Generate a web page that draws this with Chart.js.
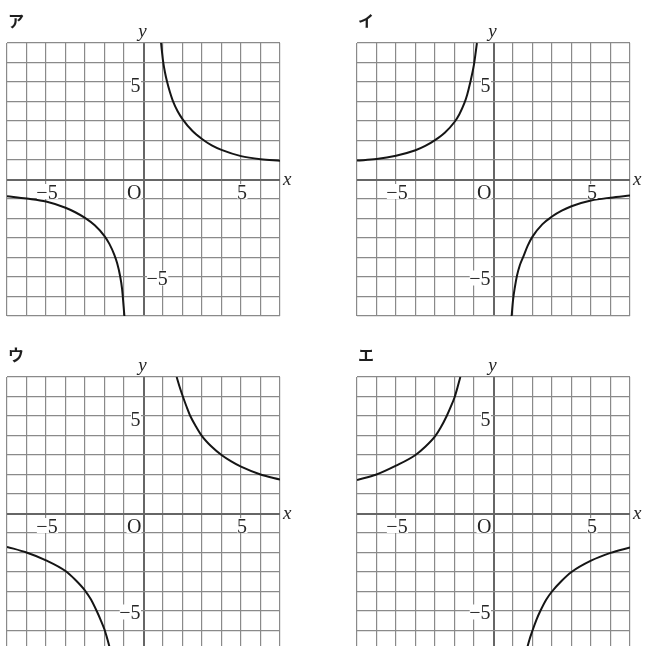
<!DOCTYPE html>
<html>
<head>
<meta charset="utf-8">
<script src="https://cdn.jsdelivr.net/npm/chart.js@4"></script>
<style>
  html, body { margin: 0; padding: 0; background: #ffffff; overflow: hidden; width: 645px; height: 646px; }
  canvas { position: absolute; }
</style>
</head>
<body>
<canvas id="cA" width="322" height="330" style="left:0px;top:0px;"></canvas>
<canvas id="cI" width="323" height="330" style="left:322px;top:0px;"></canvas>
<canvas id="cU" width="322" height="330" style="left:0px;top:330px;"></canvas>
<canvas id="cE" width="323" height="330" style="left:322px;top:330px;"></canvas>
<script>
// ---- data ----
const axisMin = -7;
const axisMax = 7;
const panelNames = ['ア', 'イ', 'ウ', 'エ'];
const xTickValues = [-5, 0, 5];
const xTickTexts = ['−5', 'O', '5'];
const yTickValues = [5, -5];
const yTickTexts = ['5', '−5'];

// ア
const aUpperX = [0.9, 1.0, 1.1, 1.2, 1.35, 1.5, 1.75, 2.0, 2.5, 3.0, 3.5, 4.0, 5.0, 6.0, 7.0];
const aUpperY = [7.0, 6.1, 5.5, 5.05, 4.5, 4.05, 3.5, 3.1, 2.5, 2.08, 1.75, 1.52, 1.2, 1.04, 0.96];
const aLowerX = [-7.0, -6.0, -5.0, -4.0, -3.5, -3.0, -2.5, -2.0, -1.75, -1.5, -1.35, -1.2, -1.1, -0.98];
const aLowerY = [-0.86, -0.98, -1.13, -1.45, -1.68, -1.97, -2.35, -2.9, -3.3, -3.85, -4.3, -4.95, -5.6, -7.0];
// イ
const iUpperX = [-7.0, -6.0, -5.0, -4.0, -3.5, -3.0, -2.5, -2.0, -1.75, -1.5, -1.35, -1.2, -1.0, -0.85];
const iUpperY = [0.97, 1.05, 1.22, 1.5, 1.72, 2.02, 2.4, 2.95, 3.35, 3.9, 4.35, 4.95, 5.9, 7.0];
const iLowerX = [0.93, 1.0, 1.1, 1.2, 1.35, 1.54, 1.75, 2.0, 2.5, 3.0, 3.5, 4.0, 5.0, 6.0, 7.0];
const iLowerY = [-7.0, -6.2, -5.5, -4.95, -4.4, -3.93, -3.4, -2.93, -2.3, -1.9, -1.6, -1.37, -1.08, -0.93, -0.82];
// ウ
const uUpperX = [1.7, 1.85, 2.0, 2.2, 2.4, 2.7, 3.0, 3.5, 4.0, 4.5, 5.0, 6.0, 7.0];
const uUpperY = [7.0, 6.5, 6.05, 5.5, 5.0, 4.45, 3.97, 3.42, 3.0, 2.67, 2.4, 2.0, 1.74];
const uLowerX = [-7.0, -6.0, -5.0, -4.0, -3.5, -3.0, -2.7, -2.4, -2.2, -2.0, -1.85, -1.7];
const uLowerY = [-1.71, -2.0, -2.4, -2.95, -3.4, -3.95, -4.4, -5.0, -5.45, -5.95, -6.45, -7.0];
// エ
const eUpperX = [-7.0, -6.0, -5.0, -4.0, -3.5, -3.0, -2.7, -2.4, -2.2, -2.0, -1.85, -1.7];
const eUpperY = [1.72, 2.0, 2.45, 3.0, 3.42, 3.95, 4.42, 5.0, 5.45, 5.95, 6.45, 7.0];
const eLowerX = [1.7, 1.85, 2.0, 2.2, 2.4, 2.7, 3.0, 3.5, 4.0, 5.0, 6.0, 7.0];
const eLowerY = [-7.0, -6.45, -6.0, -5.45, -5.0, -4.42, -4.0, -3.45, -3.0, -2.42, -2.02, -1.74];

// ---- drawing ----
const GRID = '#8a8a8a';
const AXIS = '#666666';
const SERIF = '"Liberation Serif", "DejaVu Serif", serif';

function pts(xs, ys) { return xs.map((x, i) => ({ x: x, y: ys[i] })); }

function branch(xs, ys) {
  return {
    data: pts(xs, ys),
    showLine: true,
    borderColor: '#151515',
    borderWidth: 2,
    pointRadius: 0,
    fill: false,
    cubicInterpolationMode: 'monotone'
  };
}

function labelBox(ctx, text, x, y, align) {
  ctx.textAlign = align;
  ctx.textBaseline = 'alphabetic';
  const m = ctx.measureText(text);
  const left = x - m.actualBoundingBoxLeft;
  const right = x + m.actualBoundingBoxRight;
  const top = y - m.actualBoundingBoxAscent;
  const bottom = y + m.actualBoundingBoxDescent;
  ctx.fillStyle = '#ffffff';
  ctx.fillRect(left - 0.5, top - 0.5, right - left + 1, bottom - top + 1);
  ctx.fillStyle = '#262626';
  ctx.fillText(text, x, y);
}

const labelsPlugin = {
  id: 'labels',
  afterDatasetsDraw(chart, args, opts) {
    const ctx = chart.ctx;
    const xs = chart.scales.x, ys = chart.scales.y;
    const ax = xs.getPixelForValue(0);
    const ay = ys.getPixelForValue(0);
    const area = chart.chartArea;
    ctx.save();
    // x tick labels
    ctx.font = '20px ' + SERIF;
    xTickValues.forEach((v, i) => {
      const t = xTickTexts[i];
      if (v === 0) {
        labelBox(ctx, t, ax - 2, ay + 19, 'right');
      } else {
        labelBox(ctx, t, xs.getPixelForValue(v) + 1, ay + 19, 'center');
      }
    });
    // y tick labels
    yTickValues.forEach((v, i) => {
      const t = yTickTexts[i];
      const py = ys.getPixelForValue(v) + (v > 0 ? 10 : 8);
      const side = opts.ySides[i];
      if (side === 'left') labelBox(ctx, t, ax - 3, py, 'right');
      else labelBox(ctx, t, ax + 3, py, 'left');
    });
    // axis names
    ctx.fillStyle = '#262626';
    ctx.font = 'italic 19px ' + SERIF;
    ctx.textAlign = 'center';
    ctx.textBaseline = 'alphabetic';
    ctx.fillText('y', ax - 1, area.top - 6);
    ctx.textAlign = 'left';
    ctx.fillText('x', area.right + 3, ay + 5);
    // panel name
    ctx.font = 'bold 16px "Noto Sans CJK JP", sans-serif';
    ctx.fillStyle = '#1e1e1e';
    ctx.fillText(opts.name, area.left + 1, area.top - 16);
    ctx.restore();
  }
};

function axisScale() {
  return {
    type: 'linear',
    min: axisMin,
    max: axisMax,
    ticks: { display: false, stepSize: 1 },
    grid: {
      drawTicks: false,
      color: (c) => (c.tick && c.tick.value === 0 ? AXIS : GRID),
      lineWidth: (c) => (c.tick && c.tick.value === 0 ? 2 : 1.2)
    },
    border: { display: false }
  };
}

function makeChart(id, datasets, padding, name, ySides) {
  return new Chart(document.getElementById(id), {
    type: 'scatter',
    data: { datasets: datasets },
    options: {
      responsive: false,
      animation: false,
      layout: { padding: padding },
      plugins: {
        legend: { display: false },
        tooltip: { enabled: false },
        labels: { name: name, ySides: ySides }
      },
      scales: { x: axisScale(), y: axisScale() }
    },
    plugins: [labelsPlugin]
  });
}

makeChart('cA', [branch(aUpperX, aUpperY), branch(aLowerX, aLowerY)],
  { left: 7, top: 43, right: 42, bottom: 14 }, panelNames[0], ['left', 'right']);
makeChart('cI', [branch(iUpperX, iUpperY), branch(iLowerX, iLowerY)],
  { left: 35, top: 43, right: 15, bottom: 14 }, panelNames[1], ['left', 'left']);
makeChart('cU', [branch(uUpperX, uUpperY), branch(uLowerX, uLowerY)],
  { left: 7, top: 47, right: 42, bottom: 10 }, panelNames[2], ['left', 'left']);
makeChart('cE', [branch(eUpperX, eUpperY), branch(eLowerX, eLowerY)],
  { left: 35, top: 47, right: 15, bottom: 10 }, panelNames[3], ['left', 'left']);
</script>
</body>
</html>
